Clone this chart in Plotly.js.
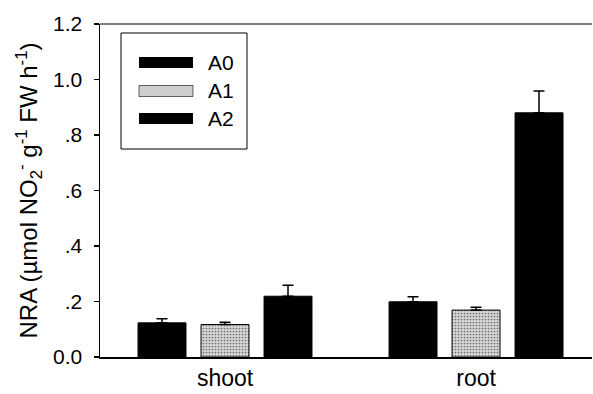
<!DOCTYPE html>
<html>
<head>
<meta charset="utf-8">
<script src="https://cdn.plot.ly/plotly-3.0.1.min.js"></script>
<style>
  html, body { margin: 0; padding: 0; background: #fff; }
  #chart { width: 593px; height: 394px; }
</style>
</head>
<body>
<div id="chart"></div>
<script>
// ---- data ----
const categories = ["shoot", "root"];
const seriesNames = ["A0", "A1", "A2"];
const A0 = [0.123, 0.199];
const A1 = [0.117, 0.169];
const A2 = [0.219, 0.880];
const A0_err = [0.015, 0.018];
const A1_err = [0.008, 0.010];
const A2_err = [0.040, 0.079];
const yTickVals = [0, 0.2, 0.4, 0.6, 0.8, 1.0, 1.2];
const yTickText = ["0.0", ".2", ".4", ".6", ".8", "1.0", "1.2"];

const FONT = "Liberation Sans, Arial, Helvetica, sans-serif";

function errBar(arr) {
  return {
    type: "data", symmetric: false, array: arr, arrayminus: arr.map(() => 0),
    color: "#000", thickness: 1.5, width: 5.5, visible: true
  };
}

const solid = { color: "#000", line: { color: "#000", width: 1 } };
const stipple = {
  color: "#d2d2d2",
  line: { color: "#000", width: 1 },
  pattern: { shape: ".", fgcolor: "#6a6a6a", bgcolor: "#d6d6d6", size: 3, solidity: 0.25 }
};

const traces = [
  { type: "bar", name: seriesNames[0], x: categories, y: A0, marker: solid, error_y: errBar(A0_err) },
  { type: "bar", name: seriesNames[1], x: categories, y: A1, marker: stipple, error_y: errBar(A1_err) },
  { type: "bar", name: seriesNames[2], x: categories, y: A2, marker: solid, error_y: errBar(A2_err) }
];

// custom legend (long swatches, as in the reference)
const legendRows = [
  { name: seriesNames[0], fill: "#000", yc: 0.8844 },
  { name: seriesNames[1], fill: "#cfcfcf", yc: 0.7988 },
  { name: seriesNames[2], fill: "#000", yc: 0.7162 }
];
const shapes = [
  { type: "line", xref: "paper", yref: "paper", x0: 0, x1: 1, y0: 1, y1: 1, line: { color: "#000", width: 1.2 } },
  { type: "rect", xref: "paper", yref: "paper", x0: 0.0427, x1: 0.2988, y0: 0.6246, y1: 0.973,
    line: { color: "#000", width: 1 }, fillcolor: "rgba(0,0,0,0)" }
];
const annotations = [];
legendRows.forEach(r => {
  shapes.push({ type: "rect", xref: "paper", yref: "paper", x0: 0.0793, x1: 0.189,
    y0: r.yc - 0.0165, y1: r.yc + 0.0165, line: { color: "#000", width: r.fill === "#000" ? 0 : 0.6 }, fillcolor: r.fill });
  annotations.push({ xref: "paper", yref: "paper", x: 0.2155, y: r.yc, xanchor: "left", yanchor: "middle",
    text: r.name, showarrow: false, font: { family: FONT, size: 21, color: "#000" } });
});

const layout = {
  width: 593, height: 394,
  margin: { l: 100, r: 1, t: 24, b: 37 },
  paper_bgcolor: "#fff", plot_bgcolor: "#fff",
  barmode: "group", bargap: 0.247, bargroupgap: 0.239,
  showlegend: false,
  font: { family: FONT, color: "#000" },
  xaxis: {
    type: "category", range: [-0.498, 1.462],
    showline: true, linecolor: "#000", linewidth: 1.5,
    ticks: "", showgrid: false, zeroline: false,
    tickfont: { family: FONT, size: 23, color: "#000" }
  },
  yaxis: {
    range: [0, 1.2], tickvals: yTickVals, ticktext: yTickText,
    showline: true, linecolor: "#000", linewidth: 1.5,
    ticks: "outside", ticklen: 5, tickwidth: 1.2, tickcolor: "#000",
    ticklabelstandoff: 7,
    showgrid: false, zeroline: false,
    tickfont: { family: FONT, size: 21, color: "#000" },
    title: { text: "NRA (µmol NO<sub>2</sub><sup>-</sup> g<sup>-1</sup> FW h<sup>-1</sup>)",
      font: { family: FONT, size: 24, color: "#000" }, standoff: 8 }
  },
  shapes: shapes,
  annotations: annotations
};

Plotly.newPlot("chart", traces, layout, { displayModeBar: false, staticPlot: true });
</script>
</body>
</html>
